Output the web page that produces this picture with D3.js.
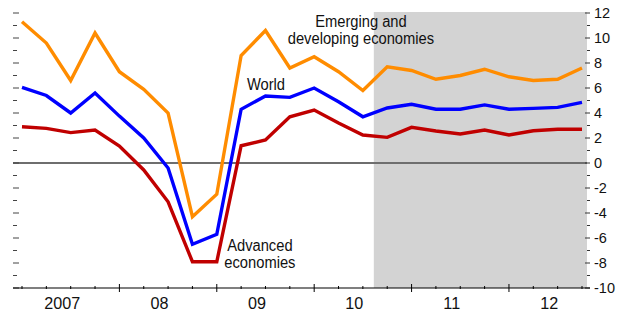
<!DOCTYPE html>
<html><head><meta charset="utf-8">
<script src="https://cdn.jsdelivr.net/npm/d3@7"></script>
<style>
html,body{margin:0;padding:0;background:#fff;}
svg{display:block;}
text{font-family:"Liberation Sans",Arial,sans-serif;fill:#111;}
</style></head><body>
<svg id="chart" width="621" height="318"></svg>
<script>
// quarterly observations 2007Q1 .. 2012Q4 (index 0..23)
const quarters = d3.range(24);
const yearLabels = ["2007","08","09","10","11","12"];
const emerging = [11.3,9.6,6.6,10.4,7.3,5.9,4.0,-4.3,-2.5,8.6,10.6,7.6,8.5,7.3,5.8,7.7,7.4,6.7,7.0,7.5,6.9,6.6,6.7,7.6];
const world    = [6.05,5.4,4.0,5.6,3.75,2.0,-0.4,-6.5,-5.7,4.3,5.36,5.25,6.0,4.9,3.7,4.4,4.7,4.3,4.3,4.65,4.3,4.37,4.45,4.85];
const advanced = [2.9,2.77,2.43,2.64,1.36,-0.56,-3.1,-7.9,-7.9,1.38,1.84,3.7,4.24,3.2,2.24,2.05,2.85,2.56,2.32,2.64,2.24,2.58,2.7,2.7];
const yTicks = d3.range(-10,13,1);
const yLabels = d3.range(-10,13,2);
const forecastStart = 14.45; // shaded projection period begins (quarter index)

const svg = d3.select("#chart");
const x = d3.scaleLinear().domain([0,23]).range([22,582]);
const y = d3.scaleLinear().domain([-10,12]).range([288,13]);
const xRight = 587, xLeft = 13;

// shaded projection area
svg.append("rect")
  .attr("x", x(forecastStart)).attr("y", y(12)-1)
  .attr("width", xRight - x(forecastStart)).attr("height", y(-10)-y(12)+1)
  .attr("fill", "#d3d3d3");

// zero line
svg.append("line")
  .attr("x1", xLeft).attr("x2", xRight)
  .attr("y1", y(0)).attr("y2", y(0))
  .attr("stroke", "#6e6e6e").attr("stroke-width", 2);

// left ticks (no labels)
svg.append("g").selectAll("line").data(yTicks).join("line")
  .attr("x1", xLeft).attr("x2", d => d % 2 === 0 ? xLeft+6 : xLeft+4)
  .attr("y1", d => y(d)).attr("y2", d => y(d))
  .attr("stroke", "#444").attr("stroke-width", 1);

// right ticks and labels
svg.append("g").selectAll("line").data(yTicks).join("line")
  .attr("x1", d => d % 2 === 0 ? xRight-2 : xRight).attr("x2", xRight+3)
  .attr("y1", d => y(d)).attr("y2", d => y(d))
  .attr("stroke", "#333").attr("stroke-width", 1);
svg.append("g").selectAll("text").data(yLabels).join("text")
  .attr("x", xRight+7).attr("y", d => y(d)).attr("dy", "0.36em")
  .attr("font-size", 14.5)
  .text(d => d < 0 ? "-" + Math.abs(d) : d);

// x axis
svg.append("line")
  .attr("x1", xLeft).attr("x2", xRight+3)
  .attr("y1", y(-10)).attr("y2", y(-10))
  .attr("stroke", "#000").attr("stroke-width", 1.2);
svg.append("g").selectAll("line").data(quarters).join("line")
  .attr("x1", d => x(d)).attr("x2", d => x(d))
  .attr("y1", d => (d % 4 === 0 && d > 0) ? y(-10)-4 : y(-10)-2)
  .attr("y2", d => (d % 4 === 0 && d > 0) ? y(-10)+4 : y(-10)+1)
  .attr("stroke", "#000").attr("stroke-width", 1);
svg.append("g").selectAll("text").data(yearLabels).join("text")
  .attr("transform", (d,i) => `translate(${x(i*4 + 1.65)},309) scale(0.95,1)`)
  .attr("text-anchor", "middle").attr("font-size", 17)
  .text(d => d);

// series
const line = d3.line().x((d,i) => x(i)).y(d => y(d));
const series = [
  {name:"Emerging", values: emerging, color:"#ff8c00"},
  {name:"World", values: world, color:"#0000ff"},
  {name:"Advanced", values: advanced, color:"#c00000"}
];
svg.append("g").selectAll("path").data(series).join("path")
  .attr("d", d => line(d.values))
  .attr("fill", "none").attr("stroke", d => d.color)
  .attr("stroke-width", 3.4).attr("stroke-linejoin", "miter");

// annotations
const ann = [
  {t:"Emerging and", xi:13.92, v:10.88},
  {t:"developing economies", xi:13.92, v:9.52},
  {t:"World", xi:10.02, v:5.84},
  {t:"Advanced", xi:9.77, v:-7.04},
  {t:"economies", xi:9.77, v:-8.4}
];
svg.append("g").selectAll("text").data(ann).join("text")
  .attr("transform", d => `translate(${x(d.xi)},${y(d.v)}) scale(0.92,1)`)
  .attr("text-anchor", "middle").attr("font-size", 16)
  .text(d => d.t);
</script>
</body></html>
